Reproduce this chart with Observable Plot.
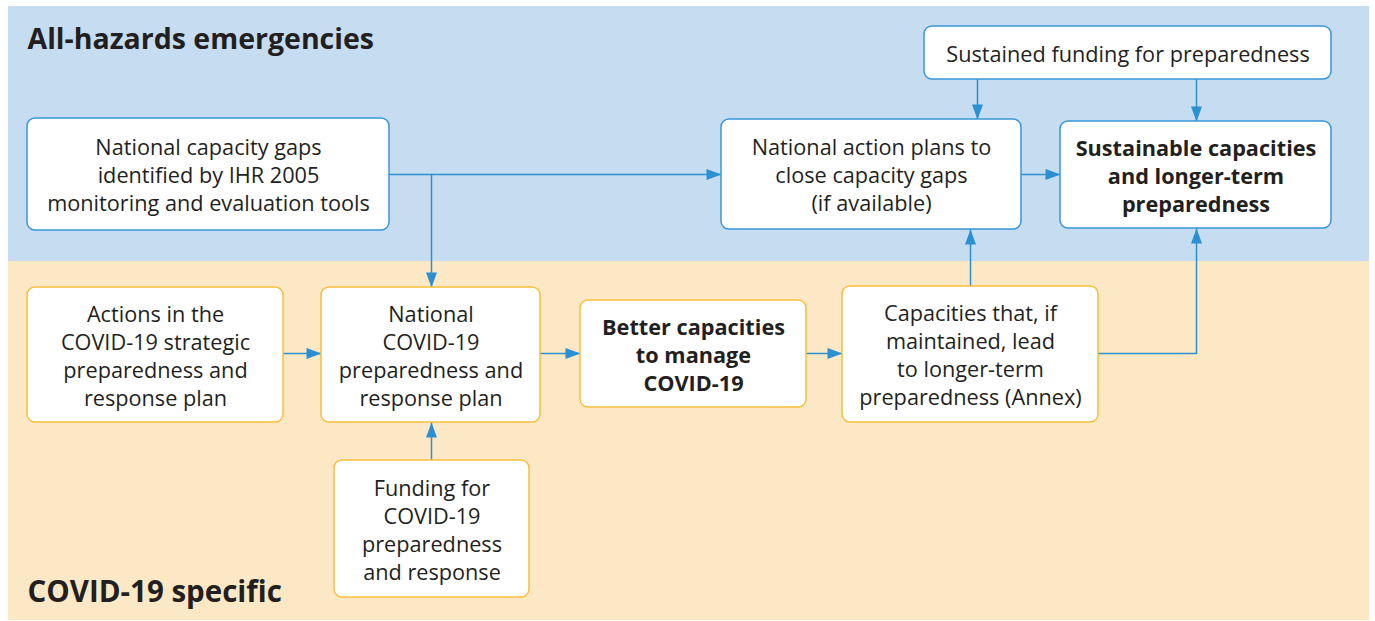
<!DOCTYPE html>
<html>
<head>
<meta charset="utf-8">
<script src="https://cdn.jsdelivr.net/npm/d3@7"></script>
<script src="https://cdn.jsdelivr.net/npm/@observablehq/plot@0.6"></script>
<style>
  html, body { margin: 0; padding: 0; background: #ffffff; }
  #chart svg { display: block; }
</style>
</head>
<body>
<div id="chart"></div>
<script>
// ---------- DATA ----------
const panelNames = ["All-hazards emergencies", "COVID-19 specific"];
const boxIds = ["gaps", "funding", "plans", "sustainable", "actions", "ncp", "better", "capacities", "covidFunding"];
const boxTexts = [
  "National capacity gaps\nidentified by IHR 2005\nmonitoring and evaluation tools",
  "Sustained funding for preparedness",
  "National action plans to\nclose capacity gaps\n(if available)",
  "Sustainable capacities\nand longer-term\npreparedness",
  "Actions in the\nCOVID-19 strategic\npreparedness and\nresponse plan",
  "National\nCOVID-19\npreparedness and\nresponse plan",
  "Better capacities\nto manage\nCOVID-19",
  "Capacities that, if\nmaintained, lead\nto longer-term\npreparedness (Annex)",
  "Funding for\nCOVID-19\npreparedness\nand response"
];
const boxPanel = ["All-hazards emergencies", "All-hazards emergencies", "All-hazards emergencies", "All-hazards emergencies",
  "COVID-19 specific", "COVID-19 specific", "COVID-19 specific", "COVID-19 specific", "COVID-19 specific"];
const boldBoxes = ["sustainable", "better"];
// connections: from -> to
const linkFrom = ["gaps", "gaps", "funding", "funding", "plans", "actions", "ncp", "better", "capacities", "capacities", "covidFunding"];
const linkTo   = ["plans", "ncp", "plans", "sustainable", "sustainable", "ncp", "better", "capacities", "plans", "sustainable", "ncp"];

// ---------- LAYOUT (positions & styles) ----------
const W = 1375, H = 621;
const panelLayout = {
  "All-hazards emergencies": {x1: 8, x2: 1369, y1: 6, y2: 261, fill: "#c6dcf0", tx: 27, ty: 39, size: 28.5},
  "COVID-19 specific": {x1: 8, x2: 1369, y1: 261, y2: 620, fill: "#fde8c6", tx: 27, ty: 592, size: 29.5}
};
const boxLayout = {
  gaps:        {x1: 27,  x2: 389,  y1: 118, y2: 230},
  funding:     {x1: 924, x2: 1331, y1: 26,  y2: 79},
  plans:       {x1: 721, x2: 1021, y1: 119, y2: 229},
  sustainable: {x1: 1060, x2: 1331, y1: 121, y2: 228},
  actions:     {x1: 27,  x2: 283,  y1: 287, y2: 422},
  ncp:         {x1: 321, x2: 540,  y1: 287, y2: 422},
  better:      {x1: 580, x2: 806,  y1: 300, y2: 407},
  capacities:  {x1: 842, x2: 1098, y1: 286, y2: 422},
  covidFunding:{x1: 334, x2: 529,  y1: 460, y2: 597}
};
const borderColor = {"All-hazards emergencies": "#3897d6", "COVID-19 specific": "#f8bf3c"};
const arrowColor = "#2a90d2";
const textColor = "#231f20";
const FONT = "Open Sans";
const BOX_FONT = 21.7;
const LINE_H = 28 / BOX_FONT;

// connector routes (relative to box geometry)
const B = boxLayout;
const branchX = 431;
function route(from, to) {
  const f = B[from], t = B[to];
  const key = from + ">" + to;
  switch (key) {
    case "gaps>plans":       return [[f.x2, 174], [t.x1, 174]];
    case "gaps>ncp":         return [[branchX, 174], [branchX, t.y1]];
    case "funding>plans":    return [[977, f.y2], [977, t.y1]];
    case "funding>sustainable": return [[1196, f.y2], [1196, t.y1]];
    case "plans>sustainable":   return [[f.x2, 174], [t.x1, 174]];
    case "actions>ncp":      return [[f.x2, 353], [t.x1, 353]];
    case "ncp>better":       return [[f.x2, 353], [t.x1, 353]];
    case "better>capacities":return [[f.x2, 353], [t.x1, 353]];
    case "capacities>plans": return [[970, f.y1], [970, t.y2]];
    case "capacities>sustainable": return [[f.x2, 353], [1196, 353], [1196, t.y2]];
    case "covidFunding>ncp": return [[branchX, f.y1], [branchX, t.y2]];
  }
}

// ---------- BUILD TABLES ----------
const panels = panelNames.map(name => ({name, ...panelLayout[name]}));
const boxes = boxIds.map((id, i) => ({
  id, text: boxTexts[i], panel: boxPanel[i], bold: boldBoxes.includes(id),
  ...boxLayout[id],
  cx: (boxLayout[id].x1 + boxLayout[id].x2) / 2,
  cy: (boxLayout[id].y1 + boxLayout[id].y2) / 2
}));
const linePts = [];
const heads = [];
const HL = 15, HW = 5.5;
linkFrom.forEach((from, i) => {
  const pts = route(from, linkTo[i]);
  pts.forEach(p => linePts.push({id: i, x: p[0], y: p[1]}));
  const [ax, ay] = pts[pts.length - 2], [bx, by] = pts[pts.length - 1];
  const len = Math.hypot(bx - ax, by - ay);
  const ux = (bx - ax) / len, uy = (by - ay) / len;
  const baseX = bx - ux * HL, baseY = by - uy * HL;
  heads.push({id: i, x: bx, y: by});
  heads.push({id: i, x: baseX - uy * HW, y: baseY + ux * HW});
  heads.push({id: i, x: baseX + uy * HW, y: baseY - ux * HW});
});

const chart = Plot.plot({
  width: W, height: H, margin: 0,
  x: {domain: [0, W], range: [0, W], axis: null},
  y: {domain: [0, H], range: [0, H], axis: null},
  style: {background: "#ffffff", fontFamily: FONT},
  marks: [
    Plot.rect(panels, {x1: "x1", x2: "x2", y1: "y1", y2: "y2", fill: d => d.fill}),
    ...panels.map(p => Plot.text([p], {x: "tx", y: "ty", text: "name", textAnchor: "start", fontSize: p.size,
      fontWeight: "bold", fontFamily: FONT, fill: textColor})),
    Plot.line(linePts, {x: "x", y: "y", z: "id", stroke: arrowColor, strokeWidth: 1.5, curve: "linear"}),
    Plot.line(heads, {x: "x", y: "y", z: "id", fill: arrowColor, stroke: "none"}),
    Plot.rect(boxes, {x1: "x1", x2: "x2", y1: "y1", y2: "y2", fill: "#ffffff",
      stroke: d => borderColor[d.panel], strokeWidth: 1.5, rx: 8}),
    Plot.text(boxes.filter(d => !d.bold), {x: "cx", y: "cy", text: "text", fontSize: BOX_FONT, lineHeight: LINE_H,
      fontFamily: FONT, fill: textColor}),
    Plot.text(boxes.filter(d => d.bold), {x: "cx", y: "cy", text: "text", fontSize: BOX_FONT, lineHeight: LINE_H,
      fontWeight: "bold", fontFamily: FONT, fill: textColor})
  ]
});
document.getElementById("chart").appendChild(chart);
</script>
</body>
</html>
